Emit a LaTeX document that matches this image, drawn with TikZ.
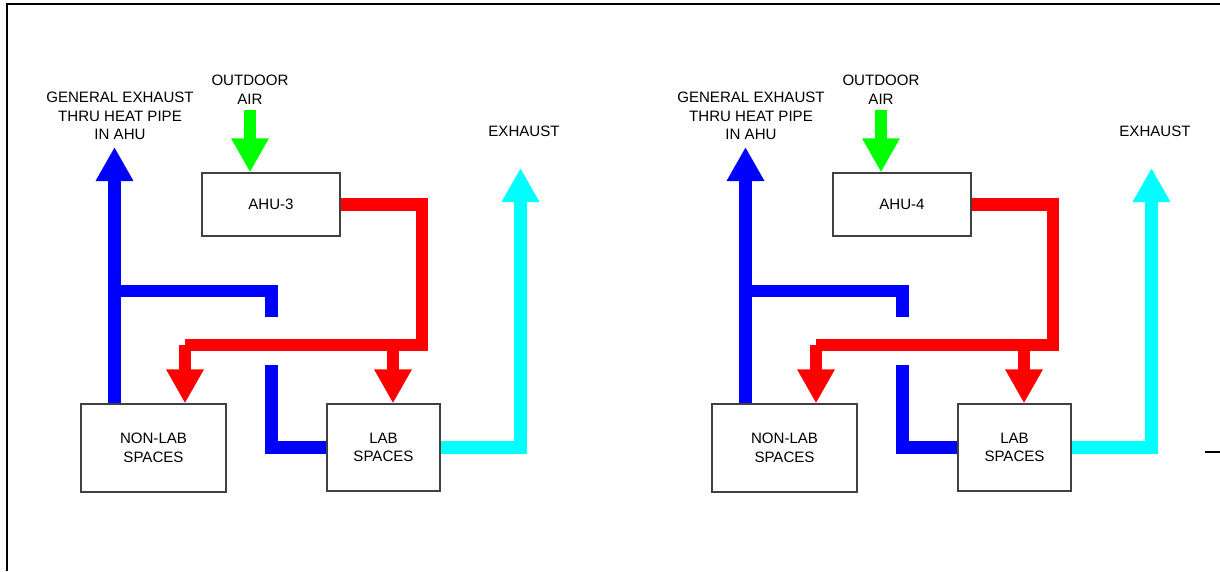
\documentclass[tikz,border=0pt]{standalone}
\usepackage{fontspec}
\setmainfont{Liberation Sans}
\usepackage{tikz}
\usetikzlibrary{arrows.meta,positioning}

\definecolor{oaGreen}{RGB}{0,255,0}
\definecolor{saRed}{RGB}{255,0,0}
\definecolor{geBlue}{RGB}{0,0,255}
\definecolor{exCyan}{RGB}{0,255,255}

\begin{document}
\begin{tikzpicture}[
  x=0.75pt, y=-0.75pt,
  font=\fontsize{11.3}{14}\selectfont,
  unit_box/.style={draw=black!75, line width=1pt, align=center, inner sep=0pt},
  duct/.style={line width=9.4pt, line join=miter},
  duct_tip/.style={-{Triangle[length=25.5pt, width=26.5pt]}},
  oa_duct/.style={duct, duct_tip, draw=oaGreen},
  sa_duct/.style={duct, draw=saRed},
  ge_duct/.style={duct, draw=geBlue},
  ex_duct/.style={duct, draw=exCyan}
]
\useasboundingbox (0,0) rectangle (1220,571);

% frame (cut at the page edge)
\draw[line width=1.5pt] (7,571) -- (7,4) -- (1220,4);
\draw[line width=1pt] (1205,452) -- (1220,452);

% --- AHU-3 (left) ---
\begin{scope}
  \node[align=center] (ge3txt) at (120,116) {GENERAL EXHAUST\\THRU HEAT PIPE\\IN AHU};
  \node[align=center] (oa3txt) at (250,89.5) {OUTDOOR\\AIR};
  \node (ex3txt) at (524,131) {EXHAUST};
  \node[unit_box, minimum width=103.5pt, minimum height=47.25pt] (ahu3) at (271,204.5) {AHU-3};
  \node[unit_box, minimum width=108.75pt, minimum height=66pt] (nonlab3) at (153.5,448) {NON-LAB\\SPACES};
  \node[unit_box, minimum width=84.75pt, minimum height=65.25pt] (lab3) at (383.5,447.5) {LAB\\SPACES};
  \coordinate (oa3) at (250,110);
  \coordinate (ge3) at (114.5,147);
  \coordinate (ex3) at (520.5,168);
  \coordinate (sa3r) at (422,345);
  \coordinate (sa3n) at (185,345);
  \coordinate (sa3l) at (393,345);
  \coordinate (ge3a) at (114.5,291);
  \coordinate (ge3b) at (271.5,317);
  \coordinate (ge3c) at (271.5,365);
  % outdoor air
  \draw[oa_duct] (oa3) -- (oa3 |- ahu3.north);
  % supply air
  \draw[sa_duct] (ahu3.east) -| (sa3r) -- (sa3n);
  \draw[sa_duct, duct_tip] (sa3n) -- (sa3n |- nonlab3.north);
  \draw[sa_duct, duct_tip] (sa3l) -- (sa3l |- lab3.north);
  % general exhaust
  \draw[ge_duct, duct_tip] (ge3 |- nonlab3.north) -- (ge3);
  \draw[ge_duct] (ge3a) -| (ge3b);
  \draw[ge_duct] (ge3c) |- (lab3.west);
  % lab exhaust
  \draw[ex_duct, duct_tip] (lab3.east) -| (ex3);
\end{scope}

% --- AHU-4 (right) ---
\begin{scope}[shift={(631,0)}]
  \node[align=center] (ge4txt) at (120,116) {GENERAL EXHAUST\\THRU HEAT PIPE\\IN AHU};
  \node[align=center] (oa4txt) at (250,89.5) {OUTDOOR\\AIR};
  \node (ex4txt) at (524,131) {EXHAUST};
  \node[unit_box, minimum width=103.5pt, minimum height=47.25pt] (ahu4) at (271,204.5) {AHU-4};
  \node[unit_box, minimum width=108.75pt, minimum height=66pt] (nonlab4) at (153.5,448) {NON-LAB\\SPACES};
  \node[unit_box, minimum width=84.75pt, minimum height=65.25pt] (lab4) at (383.5,447.5) {LAB\\SPACES};
  \coordinate (oa4) at (250,110);
  \coordinate (ge4) at (114.5,147);
  \coordinate (ex4) at (520.5,168);
  \coordinate (sa4r) at (422,345);
  \coordinate (sa4n) at (185,345);
  \coordinate (sa4l) at (393,345);
  \coordinate (ge4a) at (114.5,291);
  \coordinate (ge4b) at (271.5,317);
  \coordinate (ge4c) at (271.5,365);
  % outdoor air
  \draw[oa_duct] (oa4) -- (oa4 |- ahu4.north);
  % supply air
  \draw[sa_duct] (ahu4.east) -| (sa4r) -- (sa4n);
  \draw[sa_duct, duct_tip] (sa4n) -- (sa4n |- nonlab4.north);
  \draw[sa_duct, duct_tip] (sa4l) -- (sa4l |- lab4.north);
  % general exhaust
  \draw[ge_duct, duct_tip] (ge4 |- nonlab4.north) -- (ge4);
  \draw[ge_duct] (ge4a) -| (ge4b);
  \draw[ge_duct] (ge4c) |- (lab4.west);
  % lab exhaust
  \draw[ex_duct, duct_tip] (lab4.east) -| (ex4);
\end{scope}

\end{tikzpicture}
\end{document}
